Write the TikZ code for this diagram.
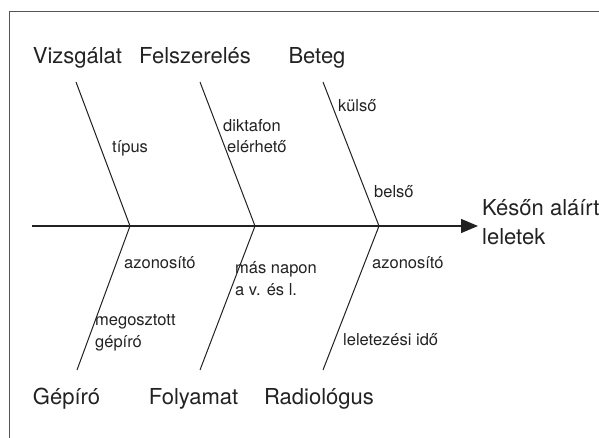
\documentclass[tikz,border=0pt]{standalone}
\usepackage{fontspec}
\setmainfont{TeX Gyre Heros}
\usetikzlibrary{arrows.meta}
\definecolor{ink}{HTML}{222222}
\definecolor{frame}{HTML}{555555}
\tikzset{
  cat/.style={font=\fontsize{22}{26}\selectfont, text=ink, inner sep=0pt, anchor=base},
  sub/.style={font=\fontsize{16.5}{22}\selectfont, text=ink, inner sep=0pt, anchor=base west, align=left},
  bone/.style={draw=ink, line width=1pt},
  spine/.style={draw=ink, line width=1.4pt, -{Triangle[length=17pt,width=14pt]}},
  effect/.style={font=\fontsize{22}{29}\selectfont, text=ink, inner sep=0pt, anchor=north west, align=left}
}
\begin{document}
\begin{tikzpicture}[x=1pt,y=-1pt]
\useasboundingbox (0,0) rectangle (599,438);
% frame
\draw[frame, line width=1pt] (9,438) -- (9,12) -- (599,12);
% junctions
\coordinate (j1) at (130,226);
\coordinate (j2) at (255,226);
\coordinate (j3) at (379,226);
\coordinate (s0) at (32,226);
\coordinate (tip) at (478,226);
\coordinate (u1) at (76,82);
\coordinate (u2) at (200,82);
\coordinate (u3) at (323,82);
\coordinate (d1) at (77,370);
\coordinate (d2) at (200,370);
\coordinate (d3) at (323,370);
% spine
\draw[spine] (s0) -- (tip);
% bones
\draw[bone] (u1) -- (j1);
\draw[bone] (u2) -- (j2);
\draw[bone] (u3) -- (j3);
\draw[bone] (d1) -- (j1);
\draw[bone] (d2) -- (j2);
\draw[bone] (d3) -- (j3);
% categories
\node[cat] (c1) at (77.5,64) {Vizsgálat};
\node[cat] (c2) at (195,64) {Felszerelés};
\node[cat] (c3) at (317,64) {Beteg};
\node[cat] (c4) at (66.5,404) {Gépíró};
\node[cat] (c5) at (193.5,404) {Folyamat};
\node[cat] (c6) at (319,404) {Radiológus};
% effect
\node[effect] (eff) at (482,199) {Későn aláírt\\leletek};
% sub causes
\node[sub] (t1) at (112,153) {típus};
\node[sub] (t2) at (223,153) {diktafon\\[-0.5pt]\hspace*{4pt}elérhető};
\node[sub] (t3) at (338,112) {külső};
\node[sub] (t4) at (374,198) {belső};
\node[sub] (t5) at (124,268) {azonosító};
\node[sub] (t6) at (235,295) {más napon\\[-0.5pt]a v. és l.};
\node[sub] (t7) at (95,347) {megosztott\\[-0.5pt]gépíró};
\node[sub] (t8) at (372,268) {azonosító};
\node[sub] (t9) at (343,345) {leletezési idő};
\end{tikzpicture}
\end{document}
